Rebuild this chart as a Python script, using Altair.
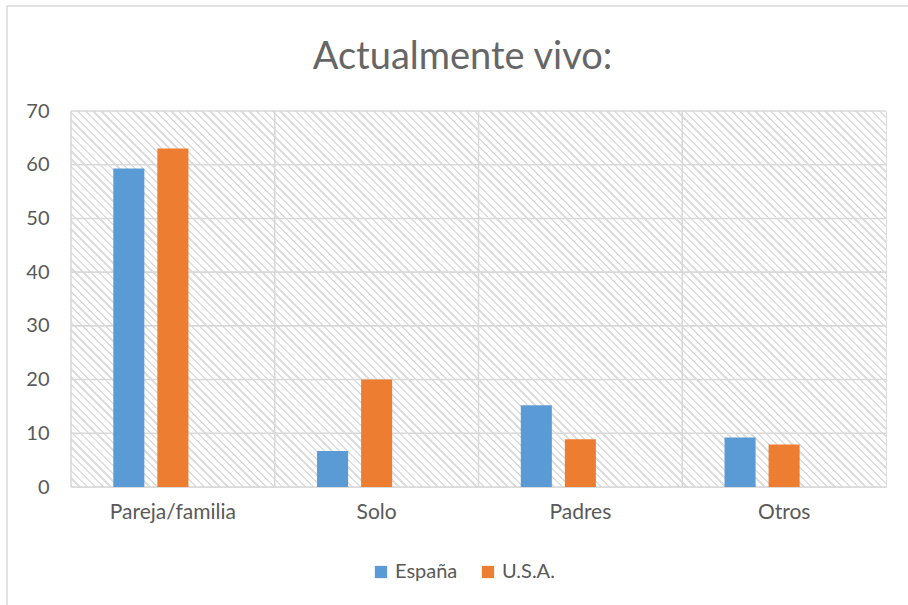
import altair as alt
import pandas as pd
import math

categories = ["Pareja/familia", "Solo", "Padres", "Otros"]
series_names = ["España", "U.S.A."]
espana = [59.3, 6.7, 15.2, 9.2]
usa = [63.0, 20.0, 8.9, 7.9]
y_ticks = [0, 10, 20, 30, 40, 50, 60, 70]
colors = ["#5B9BD5", "#ED7D31"]

rows = []
for c, e, u in zip(categories, espana, usa):
    rows.append({"category": c, "series": "España", "value": e})
    rows.append({"category": c, "series": "U.S.A.", "value": u})
df = pd.DataFrame(rows)

W, H = 815, 376
FONT = "Lato"
GRID = "#d9d9d9"

# diagonal hatch built as a striped linear gradient (style only)
s = (W + H) / (W * W + H * H)
span = (W + H) / math.sqrt(2)
period = 5.5
n = int(span / period)
frac = 0.3
stops = []
for k in range(n):
    t0 = k / n
    t1 = (k + frac) / n
    t2 = (k + 1) / n
    stops += [
        {"offset": t0, "color": "#dedede"},
        {"offset": t1, "color": "#dedede"},
        {"offset": t1, "color": "#ffffff"},
        {"offset": t2, "color": "#ffffff"},
    ]
hatch_fill = {
    "gradient": "linear",
    "x1": 0, "y1": 1, "x2": W * s, "y2": 1 - H * s,
    "stops": stops,
}

x_axis = alt.Axis(
    title=None, labelAngle=0, labelFontSize=21, labelColor="#595959",
    labelFont=FONT, labelPadding=14, ticks=False, domain=False, grid=False,
)
y_axis = alt.Axis(
    title=None, values=y_ticks, labelFontSize=20, labelColor="#595959",
    labelFont=FONT, labelPadding=22, ticks=False, domain=False, grid=False,
)
x_scale = alt.Scale(domain=categories, paddingInner=0, paddingOuter=0)
y_scale = alt.Scale(domain=[0, 70], nice=False)

one = alt.Data(values=[{"k": 1}])

hatch = alt.Chart(one).mark_rect(fill=hatch_fill, strokeWidth=0).encode(
    x=alt.value(0), x2=alt.value(W), y=alt.value(0), y2=alt.value(H)
)

hgrid = alt.Chart(pd.DataFrame({"v": y_ticks})).mark_rule(
    color=GRID, strokeWidth=1.6
).encode(y=alt.Y("v:Q", scale=y_scale, axis=y_axis))

vgrid = alt.Chart(pd.DataFrame({"category": categories})).mark_rule(
    color=GRID, strokeWidth=1.6
).encode(x=alt.X("category:N", sort=categories, scale=x_scale, axis=x_axis, bandPosition=0))

bars = alt.Chart(df).mark_bar().encode(
    x=alt.X("category:N", sort=categories, scale=x_scale, axis=x_axis),
    xOffset=alt.XOffset(
        "series:N",
        scale=alt.Scale(domain=series_names + [" "], paddingInner=0.295, paddingOuter=0.96),
    ),
    y=alt.Y("value:Q", scale=y_scale, axis=y_axis),
    color=alt.Color(
        "series:N",
        scale=alt.Scale(domain=series_names, range=colors),
        legend=alt.Legend(
            title=None, orient="none", direction="horizontal",
            legendX=300, legendY=451, symbolType="square", symbolSize=150,
            symbolStrokeWidth=0, labelFontSize=20, labelFont=FONT,
            labelColor="#595959", columnPadding=20, labelOffset=4,
        ),
    ),
)

border_top = alt.Chart(one).mark_rule(color=GRID, strokeWidth=1.5, clip=False).encode(
    x=alt.value(-64), x2=alt.value(908 - 71), y=alt.value(-105)
)
border_left = alt.Chart(one).mark_rule(color=GRID, strokeWidth=1.5, clip=False).encode(
    x=alt.value(-64), y=alt.value(-105), y2=alt.value(605 - 111)
)

chart = alt.layer(hatch, hgrid, vgrid, bars, border_top, border_left).properties(
    width=W,
    height=H,
    autosize=alt.AutoSizeParams(type="none"),
    padding={"left": 71, "top": 111, "right": 22, "bottom": 118},
    title=alt.TitleParams(
        "Actualmente vivo:", font=FONT, fontSize=38, fontWeight="normal",
        color="#666666", anchor="middle", baseline="alphabetic", offset=-102, dx=-16,
    ),
).configure_view(stroke=GRID, strokeWidth=1.6).configure(background="white")

chart.save("out.html", embed_options={"renderer": "svg", "actions": False})
